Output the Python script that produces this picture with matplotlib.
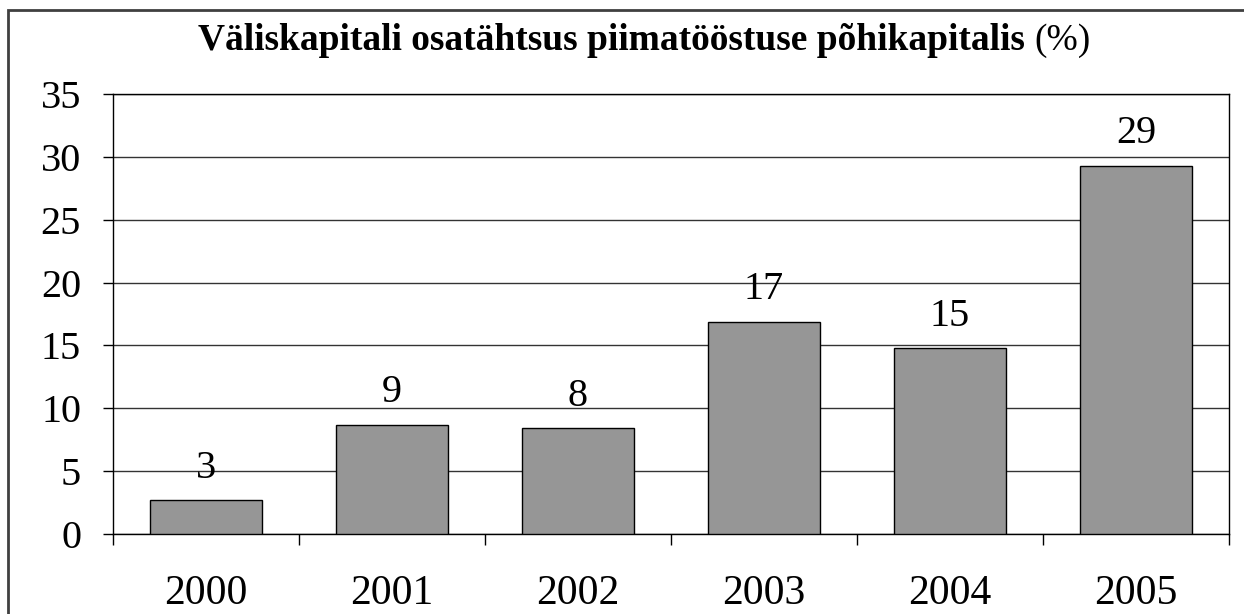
import matplotlib
matplotlib.use("Agg")
import matplotlib.pyplot as plt
from matplotlib.patches import Rectangle

plt.rcParams['font.family'] = ['Liberation Serif', 'DejaVu Serif']

years = ["2000", "2001", "2002", "2003", "2004", "2005"]
shares = [2.7, 8.7, 8.4, 16.9, 14.8, 29.3]
labels = ["3", "9", "8", "17", "15", "29"]

fig = plt.figure(figsize=(12.44, 6.14), dpi=100)
ax = fig.add_axes([113 / 1244, 1 - 534 / 614, (1229 - 113) / 1244, (534 - 94) / 614])

x = list(range(len(years)))
bars = ax.bar(x, shares, width=0.6, color="#969696", edgecolor="black", linewidth=1, zorder=3)

for b, lab in zip(bars, labels):
    ax.annotate(lab, (b.get_x() + b.get_width() / 2, b.get_height()),
                xytext=(0, 16), textcoords="offset points",
                ha="center", va="baseline", fontsize=29, zorder=4)

ax.set_xlim(-0.5, len(years) - 0.5)
ax.set_ylim(0, 35)
ax.set_yticks(range(0, 36, 5))
ax.yaxis.grid(True, color="#333333", linewidth=1, zorder=0)

# category boundary ticks, labels centred between them
ax.set_xticks([i - 0.5 for i in range(len(years) + 1)])
ax.set_xticklabels([])
ax.set_xticks(x, minor=True)
ax.set_xticklabels(years, minor=True)
ax.tick_params(axis="x", which="major", direction="out", length=8, width=1)
ax.tick_params(axis="x", which="minor", length=0, pad=29, labelsize=30)
ax.tick_params(axis="y", direction="out", length=7, width=1, pad=16, labelsize=29)

for s in ax.spines.values():
    s.set_linewidth(1)
    s.set_color("black")

t = fig.text(198 / 1244, 1 - 58 / 614, "Väliskapitali osatähtsus piimatööstuse põhikapitalis",
             fontsize=27, fontweight="bold", ha="left", va="bottom")
fig.add_artist(plt.Annotation("(%)", xy=(1, 0), xycoords=t, xytext=(7, 0),
                              textcoords="offset points", fontsize=27, va="bottom"))

# outer chart border (only top and left edges are inside the picture)
fig.add_artist(Rectangle((8 / 1244, -0.1), 1.1, 1 - 10 / 614 + 0.1, transform=fig.transFigure,
                         fill=False, edgecolor="#404040", linewidth=2))

fig.savefig("out.png", dpi=100)
